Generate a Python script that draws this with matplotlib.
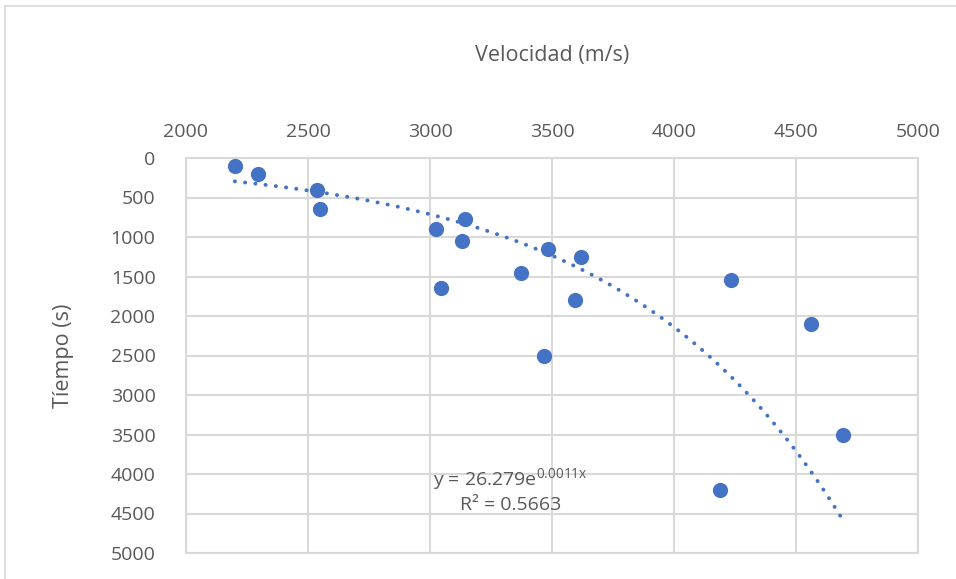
import numpy as np
import matplotlib
matplotlib.use("Agg")
import matplotlib.pyplot as plt
from matplotlib.patches import Rectangle

# datos
velocidad = [2200, 2295, 2537, 2549, 3025, 3143, 3131, 3045, 3373, 3484,
             3619, 3594, 3467, 4234, 4561, 4693, 4189]
tiempo = [100, 200, 400, 650, 900, 770, 1050, 1650, 1450, 1150,
          1250, 1800, 2500, 1550, 2100, 3500, 4200]

# linea de tendencia exponencial (Excel)
coef_a = 26.279
coef_b = 0.0011
r2 = 0.5663

azul = "#4472C4"
gris_txt = "#595959"
gris_grid = "#D9D9D9"

plt.rcParams['font.family'] = ['Open Sans', 'DejaVu Sans']
plt.rcParams['mathtext.fontset'] = 'custom'
plt.rcParams['mathtext.rm'] = 'Open Sans'

fig = plt.figure(figsize=(9.56, 5.79), dpi=100)
# borde del area del grafico
fig.patches.append(Rectangle((5 / 956, -0.1), 1.2, 1.1 - 6 / 579, transform=fig.transFigure,
                             fill=False, edgecolor=gris_grid, linewidth=1.2))
ax = fig.add_axes([186 / 956, 1 - 553 / 579, (918 - 186) / 956, (553 - 158) / 579])

ax.scatter(velocidad, tiempo, s=120, color=azul, zorder=3, linewidths=0)

xs = np.linspace(min(velocidad), max(velocidad), 200)
ax.plot(xs, coef_a * np.exp(coef_b * xs), linestyle=(0, (0.05, 2.6)), color=azul,
        linewidth=2.8, dash_capstyle="round", zorder=2)

ax.set_xlim(2000, 5000)
ax.set_ylim(5000, 0)
ax.set_xticks(np.arange(2000, 5001, 500))
ax.set_yticks(np.arange(0, 5001, 500))
ax.xaxis.tick_top()
ax.xaxis.set_label_position("top")
ax.tick_params(length=0, labelsize=14, labelcolor=gris_txt)
ax.tick_params(axis="x", pad=12)
ax.tick_params(axis="y", pad=22)
ax.grid(True, color=gris_grid, linewidth=1.5, zorder=0)
ax.set_axisbelow(True)
for s in ax.spines.values():
    s.set_color(gris_grid)
    s.set_linewidth(1.5)

ax.set_xlabel("Velocidad (m/s)", fontsize=15.5, color=gris_txt, labelpad=45)
ax.set_ylabel("Tíempo (s)", fontsize=15.5, color=gris_txt, labelpad=26)

ax.text(3330, 4070, "y = 26.279e$\\mathregular{^{0.0011x}}$", fontsize=14, color=gris_txt,
        ha="center", va="center")
ax.text(3330, 4390, "R² = %.4f" % r2, fontsize=14, color=gris_txt,
        ha="center", va="center")

fig.savefig("out.png", dpi=100)
